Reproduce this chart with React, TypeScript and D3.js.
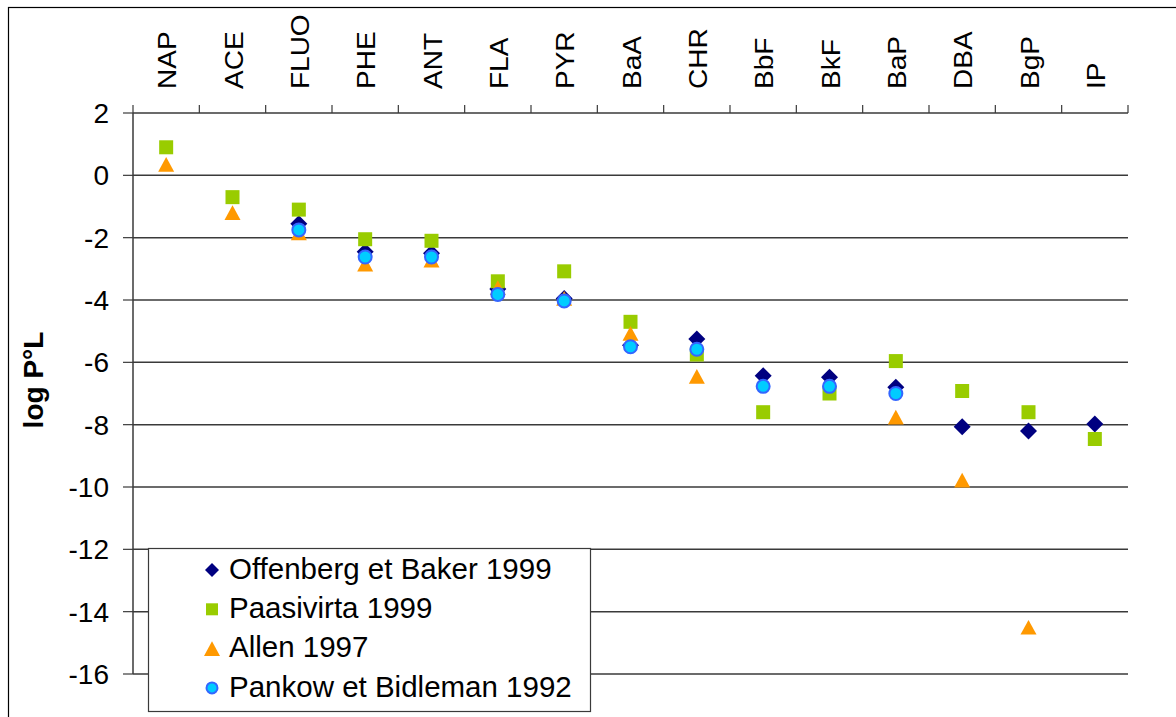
import React from "react";
import * as d3 from "d3";

const categories = ["NAP", "ACE", "FLUO", "PHE", "ANT", "FLA", "PYR", "BaA", "CHR", "BbF", "BkF", "BaP", "DBA", "BgP", "IP"];
const offenberg: (number | null)[] = [null, null, -1.55, -2.45, -2.5, -3.65, -3.95, -5.45, -5.25, -6.43, -6.48, -6.8, -8.07, -8.2, -7.98];
const paasivirta: (number | null)[] = [0.9, -0.7, -1.1, -2.05, -2.1, -3.4, -3.08, -4.7, -5.75, -7.6, -7.0, -5.96, -6.92, -7.6, -8.46];
const allen: (number | null)[] = [0.35, -1.2, -1.85, -2.85, -2.72, -3.6, -3.95, -5.07, -6.45, null, null, -7.76, -9.78, -14.5, null];
const pankow: (number | null)[] = [null, null, -1.75, -2.62, -2.62, -3.82, -4.03, -5.5, -5.58, -6.77, -6.77, -7.0, null, null, null];
const yTicks = [2, 0, -2, -4, -6, -8, -10, -12, -14, -16];
const seriesNames = ["Offenberg et Baker 1999", "Paasivirta 1999", "Allen 1997", "Pankow et Bidleman 1992"];

const FONT = "Arial, 'Liberation Sans', sans-serif";

type Kind = "diamond" | "square" | "triangle" | "circle";

function Marker({ kind, x, y, s }: { kind: Kind; x: number; y: number; s: number }) {
  if (kind === "diamond") {
    const h = s / 2;
    return <path d={`M${x},${y - h}L${x + h},${y}L${x},${y + h}L${x - h},${y}Z`} fill="#000080" />;
  }
  if (kind === "square") {
    return <rect x={x - s / 2} y={y - s / 2} width={s} height={s} fill="#99cc00" />;
  }
  if (kind === "triangle") {
    const h = s * 0.92;
    return <path d={`M${x},${y - h / 2}L${x + s / 2},${y + h / 2}L${x - s / 2},${y + h / 2}Z`} fill="#ff9900" />;
  }
  return <circle cx={x} cy={y} r={s / 2} fill="#00ccff" stroke="#3366ff" strokeWidth={2} />;
}

export default function App() {
  const W = 1176, H = 717;
  const left = 133, right = 1128, top = 113, bottom = 674;
  const x = d3.scaleBand<string>().domain(categories).range([left, right]).padding(0);
  const y = d3.scaleLinear().domain([-16, 2]).range([bottom, top]);
  const cx = (c: string) => (x(c) as number) + x.bandwidth() / 2;

  const series: { data: (number | null)[]; kind: Kind; size: number }[] = [
    { data: offenberg, kind: "diamond", size: 17 },
    { data: paasivirta, kind: "square", size: 14 },
    { data: allen, kind: "triangle", size: 16 },
    { data: pankow, kind: "circle", size: 13 },
  ];
  const legendKinds: { kind: Kind; size: number }[] = [
    { kind: "diamond", size: 14 },
    { kind: "square", size: 12 },
    { kind: "triangle", size: 16 },
    { kind: "circle", size: 11 },
  ];
  const boundaries = d3.range(categories.length + 1).map((i) => left + i * x.bandwidth());

  return (
    <svg width={W} height={H} style={{ position: "absolute", left: 0, top: 0 }} fontFamily={FONT}>
      <rect x={0} y={0} width={W} height={H} fill="#fff" />
      <rect x={8.5} y={7.5} width={1180} height={730} fill="none" stroke="#000" strokeWidth={1.2} />
      {/* gridlines */}
      {yTicks.filter((t) => t !== 2).map((t) => (
        <line key={t} x1={left} x2={right} y1={y(t)} y2={y(t)} stroke="#3a3a3a" strokeWidth={1.5} />
      ))}
      {/* top category axis */}
      <line x1={left} x2={right} y1={top} y2={top} stroke="#3a3a3a" strokeWidth={1.5} />
      {boundaries.map((b, i) => (
        <line key={i} x1={b} x2={b} y1={top - 8} y2={top} stroke="#3a3a3a" strokeWidth={1.2} />
      ))}
      {/* y axis */}
      <line x1={left} x2={left} y1={top} y2={bottom} stroke="#3a3a3a" strokeWidth={1.5} />
      {yTicks.map((t) => (
        <g key={t}>
          <line x1={left - 10} x2={left} y1={y(t)} y2={y(t)} stroke="#3a3a3a" strokeWidth={1.2} />
          <text x={109} y={y(t)} dy="0.36em" textAnchor="end" fontSize={28} fill="#000">
            {t}
          </text>
        </g>
      ))}
      {/* category labels */}
      {categories.map((c) => (
        <text
          key={c}
          transform={`translate(${cx(c) + 1},89) rotate(-90) scale(1,0.9)`}
          dy="0.36em"
          textAnchor="start"
          fontSize={28}
          fill="#000"
        >
          {c}
        </text>
      ))}
      {/* y title */}
      <text
        transform={`translate(33,380) rotate(-90)`}
        dy="0.36em"
        textAnchor="middle"
        fontSize={28}
        fontWeight="bold"
        fill="#000"
      >
        log P°L
      </text>
      {/* markers */}
      {series.map((s, si) => (
        <g key={si}>
          {s.data.map((v, i) =>
            v === null ? null : <Marker key={i} kind={s.kind} x={cx(categories[i])} y={y(v)} s={s.size} />
          )}
        </g>
      ))}
      {/* legend */}
      <rect x={148.5} y={548.5} width={442} height={163} fill="#fff" stroke="#3a3a3a" strokeWidth={1.2} />
      {seriesNames.map((n, i) => {
        const ly = 568 + i * 39.3;
        return (
          <g key={n}>
            <Marker kind={legendKinds[i].kind} x={212} y={ly + 2} s={legendKinds[i].size} />
            <text x={229} y={ly} dy="0.36em" fontSize={29.5} fill="#000">
              {n}
            </text>
          </g>
        );
      })}
    </svg>
  );
}
